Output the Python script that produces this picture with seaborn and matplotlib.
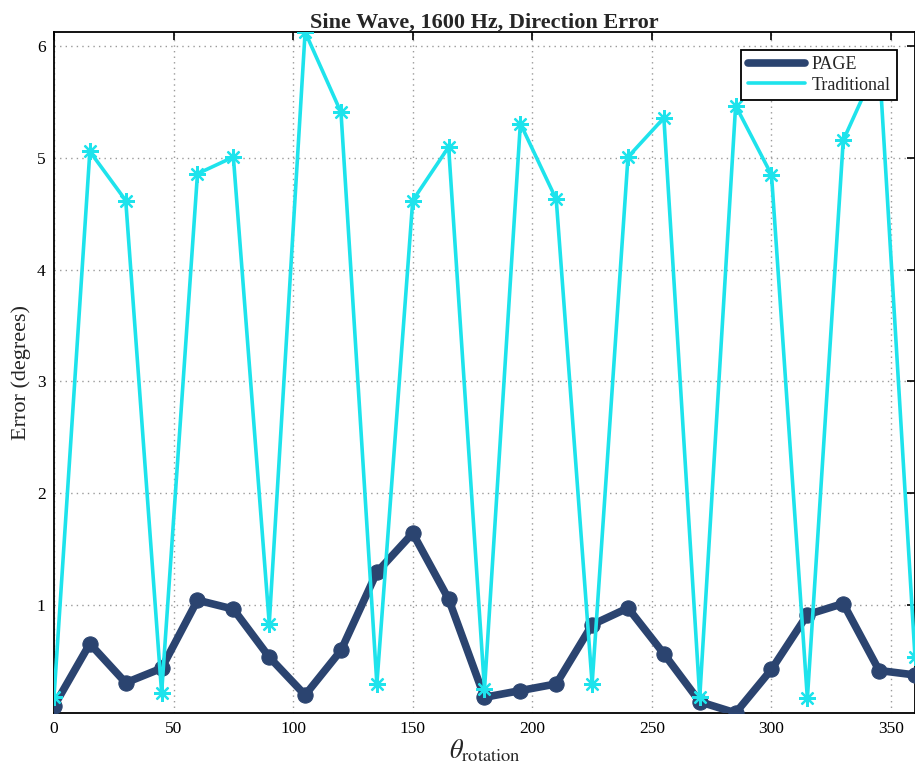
import numpy as np
import pandas as pd
import matplotlib
matplotlib.use("Agg")
import matplotlib.pyplot as plt
import seaborn as sns
from matplotlib.lines import Line2D

angles = list(range(0, 361, 15))
page = [0.09, 0.65, 0.30, 0.43, 1.04, 0.96, 0.53, 0.19, 0.59, 1.29, 1.64, 1.05,
        0.17, 0.23, 0.29, 0.82, 0.97, 0.56, 0.13, 0.03, 0.42, 0.91, 1.01, 0.41, 0.37]
traditional = [0.17, 5.06, 4.62, 0.21, 4.86, 5.01, 0.83, 6.13, 5.41, 0.29, 4.62, 5.10,
               0.24, 5.31, 4.63, 0.29, 5.01, 5.36, 0.17, 5.47, 4.85, 0.16, 5.16, 5.87, 0.53]
series_names = ["PAGE", "Traditional"]
xticks = [0, 50, 100, 150, 200, 250, 300, 350]
yticks = [1, 2, 3, 4, 5, 6]

sns.set_theme(style="white")
plt.rcParams["font.family"] = ["Liberation Serif", "DejaVu Serif"]
plt.rcParams["mathtext.fontset"] = "stix"

df = pd.DataFrame({"angle": angles, "PAGE": page, "Traditional": traditional})

fig = plt.figure(figsize=(9.15, 7.8), dpi=100)
ax = fig.add_axes([0.059, 0.086, 0.941, 0.873])

c_page = "#2B4470"
c_trad = "#1EE3EC"

sns.lineplot(data=df, x="angle", y="PAGE", ax=ax, color=c_page, linewidth=5.5,
             marker="o", markersize=11, markeredgecolor=c_page, legend=False,
             solid_joinstyle="round", zorder=3)
sns.lineplot(data=df, x="angle", y="Traditional", ax=ax, color=c_trad, linewidth=2.6,
             marker=(8, 2, 0), markersize=12, markeredgecolor=c_trad, markeredgewidth=1.6,
             legend=False, zorder=4)

ax.set_xlim(0, 360)
ax.set_ylim(0.03, 6.13)
ax.set_xticks(xticks)
ax.set_yticks(yticks)
ax.tick_params(axis="both", direction="in", length=6, width=1.2, labelsize=12.5,
               top=True, right=True, colors="black", pad=6)
ax.grid(True, linestyle=(0, (1, 3)), color="#9a9a9a", linewidth=1.0)
for s in ax.spines.values():
    s.set_color("black")
    s.set_linewidth(1.3)

ax.set_title("Sine Wave, 1600 Hz, Direction Error", fontsize=16, fontweight="bold", pad=3)
ax.set_ylabel("Error (degrees)", fontsize=16, labelpad=4)
ax.set_xlabel(r"$\theta_{\mathrm{rotation}}$", fontsize=19, labelpad=0)

handles = [Line2D([0], [0], color=c_page, linewidth=5.5),
           Line2D([0], [0], color=c_trad, linewidth=2.6)]
leg = ax.legend(handles, series_names, loc="upper right", fontsize=13,
                frameon=True, fancybox=False, edgecolor="black", framealpha=1,
                borderpad=0.35, handlelength=3.2, handletextpad=0.35,
                labelspacing=0.2, borderaxespad=0,
                bbox_to_anchor=(0.979, 0.974))
leg.get_frame().set_linewidth(1.3)

fig.savefig("out.png", dpi=100)
